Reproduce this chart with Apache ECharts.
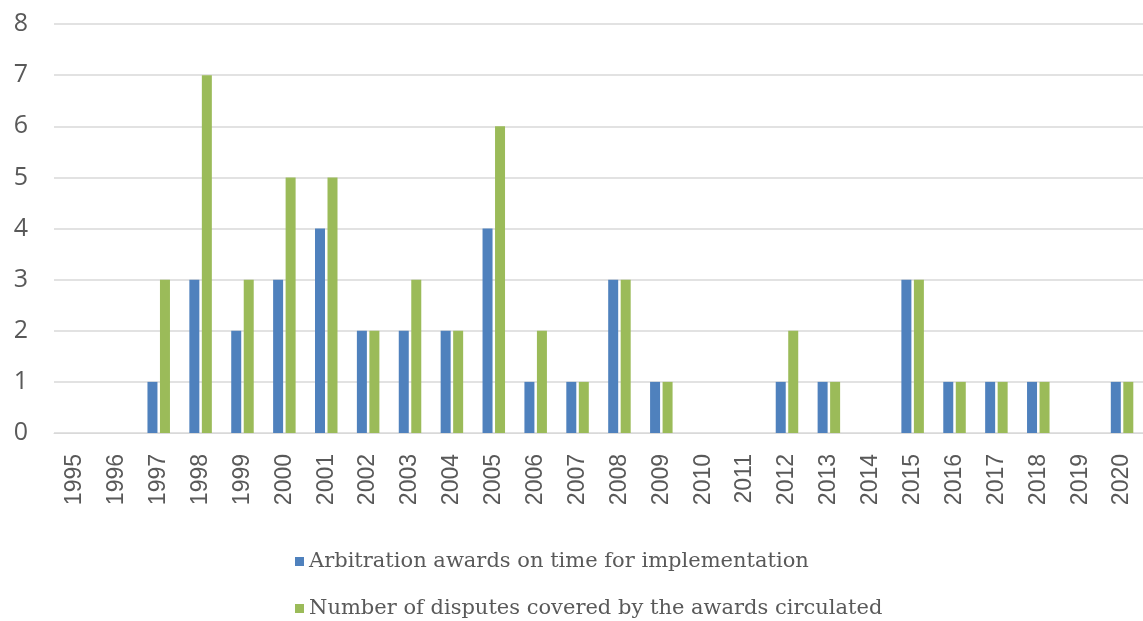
<!DOCTYPE html>
<html><head><meta charset="utf-8">
<script src="https://cdn.jsdelivr.net/npm/echarts@6/dist/echarts.min.js"></script>
<style>html,body{margin:0;padding:0;background:#fff}#c{width:1143px;height:621px}</style>
</head><body><div id="c"></div>
<script>
const years = ['1995','1996','1997','1998','1999','2000','2001','2002','2003','2004','2005','2006','2007','2008','2009','2010','2011','2012','2013','2014','2015','2016','2017','2018','2019','2020'];
const awardsOnTime = [0,0,1,3,2,3,4,2,2,2,4,1,1,3,1,0,0,1,1,0,3,1,1,1,0,1];
const disputesCovered = [0,0,3,7,3,5,5,2,3,2,6,2,1,3,1,0,0,2,1,0,3,1,1,1,0,1];
const seriesNames = ['Arbitration awards on time for implementation','Number of disputes covered by the awards circulated'];

const legendBase = {
  orient:'horizontal', left:290, itemWidth:9, itemHeight:9, icon:'rect',
  textStyle:{fontFamily:'DejaVu Serif', fontSize:21, color:'#595959'}
};
const chart = echarts.init(document.getElementById('c'), null, {renderer:'canvas'});
chart.setOption({
  animation:false,
  color:['#4f81bd','#9bbb59'],
  grid:{left:54, right:0, top:24, bottom:188},
  legend:[
    Object.assign({}, legendBase, {top:546, data:[seriesNames[0]]}),
    Object.assign({}, legendBase, {top:593, data:[seriesNames[1]]})
  ],
  xAxis:{
    type:'category', data:years,
    axisLine:{lineStyle:{color:'#d9d9d9', width:1}},
    axisTick:{show:false},
    axisLabel:{show:false}
  },
  yAxis:{
    type:'value', min:0, max:8, interval:1,
    axisLine:{show:false}, axisTick:{show:false},
    splitLine:{lineStyle:{color:'#d9d9d9', width:1.5}},
    axisLabel:{margin:26, color:'#595959', fontFamily:'Open Sans', fontSize:25}
  },
  series:[
    {name:seriesNames[0], type:'bar', data:awardsOnTime, barWidth:10, barGap:'25%'},
    {name:seriesNames[1], type:'bar', data:disputesCovered, barWidth:10, barGap:'25%'},
    {
      name:'yearLabels', type:'custom', silent:true, clip:false, z:10,
      data: years.map((y, i) => [i, 0]),
      renderItem: function(params, api){
        const p = api.coord([api.value(0), 0]);
        return {
          type:'text', x:p[0], y:p[1] + 21, rotation:Math.PI/2,
          style:{text:years[params.dataIndex], align:'right', verticalAlign:'middle',
                 fill:'#595959', fontSize:23, fontFamily:'sans-serif'}
        };
      }
    }
  ]
});
</script></body></html>
